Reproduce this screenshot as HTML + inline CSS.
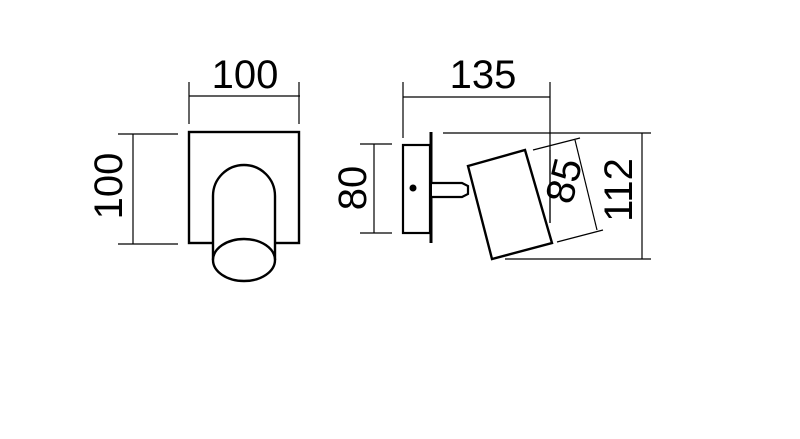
<!DOCTYPE html>
<html><head><meta charset="utf-8"><style>html,body{margin:0;padding:0;background:#fff}svg{display:block}</style></head>
<body>
<svg width="800" height="439" viewBox="0 0 800 439" xmlns="http://www.w3.org/2000/svg" font-family="'Liberation Sans', sans-serif">
<rect width="800" height="439" fill="#fff"/>
<g stroke="#000" fill="none">
  <g stroke-width="1.2">
    <line x1="189" y1="96" x2="300" y2="96"/>
    <line x1="189" y1="82" x2="189" y2="124"/>
    <line x1="299" y1="82" x2="299" y2="124"/>
    <line x1="133" y1="134" x2="133" y2="244"/>
    <line x1="118" y1="134" x2="178" y2="134"/>
    <line x1="118" y1="244" x2="178" y2="244"/>
  </g>
  <rect x="189" y="132" width="110" height="111" stroke-width="2.4" fill="#fff"/>
  <path d="M213 260 V196 A31 31 0 0 1 275 196 V260" stroke-width="2.4" fill="#fff"/>
  <ellipse cx="244" cy="260" rx="31" ry="21" stroke-width="2.4" fill="#fff"/>

  <g stroke-width="1.2">
    <line x1="403" y1="97" x2="550" y2="97"/>
    <line x1="403" y1="82" x2="403" y2="138"/>
    <line x1="550" y1="82" x2="550" y2="223"/>
    <line x1="374" y1="144" x2="374" y2="233"/>
    <line x1="360" y1="144" x2="392" y2="144"/>
    <line x1="360" y1="233" x2="392" y2="233"/>
    <line x1="443" y1="133" x2="651" y2="133"/>
    <line x1="505" y1="259" x2="651" y2="259"/>
    <line x1="642" y1="133" x2="642" y2="259"/>
    <line x1="575" y1="140" x2="597" y2="230"/>
    <line x1="533" y1="150" x2="580" y2="138"/>
    <line x1="557" y1="242" x2="603" y2="230"/>
  </g>
  <rect x="403" y="145" width="27" height="88" stroke-width="2.2" fill="#fff"/>
  <line x1="431" y1="132" x2="431" y2="243" stroke-width="3"/>
  <circle cx="413" cy="188" r="3.5" fill="#000" stroke="none"/>
  <path d="M432 183 H462 L468 186 V194 L462 197 H432" stroke-width="2.2" fill="#fff"/>
  <polygon points="468,166 525,150 552,243 492,259" stroke-width="2.4" fill="#fff"/>
  <line x1="550" y1="150" x2="550" y2="223" stroke-width="1.2"/>
</g>
<g fill="#000" font-size="40">
  <text x="245" y="88" text-anchor="middle">100</text>
  <text x="483" y="88" text-anchor="middle">135</text>
  <text transform="translate(122,186) rotate(-90)" text-anchor="middle">100</text>
  <text transform="translate(366,188) rotate(-90)" text-anchor="middle">80</text>
  <text transform="translate(632,190) rotate(-90)" text-anchor="middle">112</text>
  <text transform="translate(577,184) rotate(-76)" text-anchor="middle">85</text>
</g>
</svg>
</body></html>
